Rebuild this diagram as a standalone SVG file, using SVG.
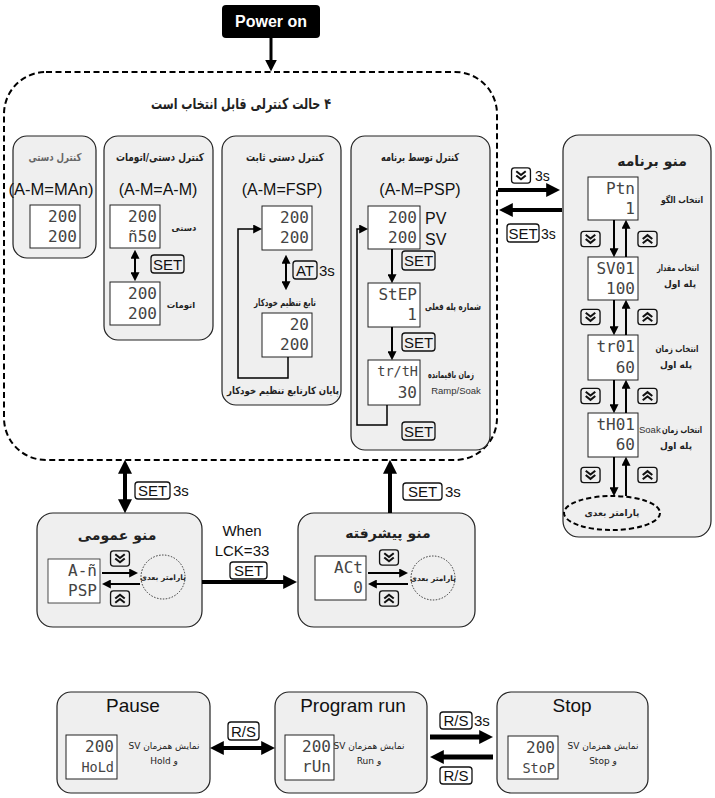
<svg xmlns="http://www.w3.org/2000/svg" xmlns:xlink="http://www.w3.org/1999/xlink" width="715" height="798" viewBox="0 0 715 798">
<defs>
<style>
.box{fill:#efefef;stroke:#222;stroke-width:1.2}
.disp{fill:#fff;stroke:#222;stroke-width:1}
.seg{font-family:"DejaVu Sans Mono","Liberation Mono",monospace;font-size:16px;fill:#444;text-anchor:end}
.seg5{font-size:13.5px}
.fa{font-family:"DejaVu Sans","Noto Sans",sans-serif;font-weight:bold;fill:#222;text-anchor:middle}
.far{font-family:"DejaVu Sans","Noto Sans",sans-serif;fill:#222;text-anchor:middle}
.en{font-family:"Liberation Sans",Arial,sans-serif;fill:#111}
.c{text-anchor:middle}
.key{fill:none;stroke:#111;stroke-width:1.3}
.ln{stroke:#000;fill:none}
.a2{stroke-width:2;marker-end:url(#h2)}
.a4{stroke-width:4;marker-end:url(#h4)}
.d2{marker-start:url(#h2)}
.d4{marker-start:url(#h4)}
</style>
<marker id="h2" viewBox="0 0 10 10" refX="2" refY="5" markerWidth="9" markerHeight="9" markerUnits="userSpaceOnUse" orient="auto-start-reverse"><path d="M0,0 L10,5 L0,10 z"/></marker>
<marker id="h3" viewBox="0 0 10 10" refX="2" refY="5" markerWidth="12" markerHeight="12" markerUnits="userSpaceOnUse" orient="auto-start-reverse"><path d="M0,0 L10,5 L0,10 z"/></marker>
<marker id="h4" viewBox="0 0 10 10" refX="2" refY="5" markerWidth="14" markerHeight="14" markerUnits="userSpaceOnUse" orient="auto-start-reverse"><path d="M0,0 L10,5 L0,10 z"/></marker>
<symbol id="kd" viewBox="0 0 22 18"><rect x="1" y="1" width="20" height="16" rx="3" fill="none" stroke="#111" stroke-width="1.4"/><path d="M6,4.5 L11,8.5 L16,4.5 M6,9 L11,13 L16,9" fill="none" stroke="#111" stroke-width="2.2"/></symbol>
<symbol id="ku" viewBox="0 0 22 18"><rect x="1" y="1" width="20" height="16" rx="3" fill="none" stroke="#111" stroke-width="1.4"/><path d="M6,9 L11,5 L16,9 M6,13.5 L11,9.5 L16,13.5" fill="none" stroke="#111" stroke-width="2.2"/></symbol>
</defs>
<rect width="715" height="798" fill="#fff"/>

<g id="power-on">
<rect x="222" y="5" width="98" height="33" rx="4" fill="#000"/>
<text x="271" y="27" class="en c" style="font-weight:bold;font-size:16px;fill:#fff">Power on</text>
</g>

<g id="control-modes">
<rect x="4" y="72" width="493" height="388" rx="42" fill="none" stroke="#000" stroke-width="2" stroke-dasharray="6 3.5"/>
<text x="241" y="109" class="fa" direction="rtl" style="font-size:15px" textLength="180" lengthAdjust="spacingAndGlyphs">۴ حالت کنترلی قابل انتخاب است</text>
</g>

<g id="mode-manual">
<rect class="box" x="13" y="136" width="83" height="122" rx="14"/>
<text x="55" y="161" class="fa" style="font-size:11px;fill:#666" textLength="53" lengthAdjust="spacingAndGlyphs">کنترل دستی</text>
<text x="51" y="195" class="en c" style="font-size:16.5px">(A-M=MAn)</text>
<rect class="disp" x="30" y="205" width="50" height="43"/>
<text x="77" y="222" class="seg">200</text>
<text x="77" y="242" class="seg">200</text>
</g>

<g id="mode-auto-manual">
<rect class="box" x="104" y="136" width="109" height="204" rx="14"/>
<text x="160" y="161" class="fa" style="font-size:11px" textLength="88" lengthAdjust="spacingAndGlyphs">کنترل دستی/اتومات</text>
<text x="158" y="195" class="en c" style="font-size:16px">(A-M=A-M)</text>
<rect class="disp" x="110" y="205" width="50" height="43"/>
<text x="157" y="222" class="seg">200</text>
<text x="157" y="242" class="seg">ñ50</text>
<text x="184" y="231" class="fa" style="font-size:8.5px">دستی</text>
<rect class="key" x="151" y="255" width="33" height="18" rx="3"/>
<text x="167.5" y="270" class="en c" style="font-size:15px">SET</text>
<rect class="disp" x="110" y="282" width="50" height="43"/>
<text x="157" y="299" class="seg">200</text>
<text x="157" y="319" class="seg">200</text>
<text x="181" y="308" class="fa" style="font-size:8.5px">اتومات</text>
</g>

<g id="mode-fsp">
<rect class="box" x="222" y="136" width="119" height="269" rx="14"/>
<text x="285" y="161" class="fa" style="font-size:11px" textLength="78" lengthAdjust="spacingAndGlyphs">کنترل دستی ثابت</text>
<text x="282" y="195" class="en c" style="font-size:16px">(A-M=FSP)</text>
<rect class="disp" x="262" y="206" width="50" height="44"/>
<text x="309" y="223" class="seg">200</text>
<text x="309" y="243" class="seg">200</text>
<rect class="key" x="293" y="261" width="24" height="18" rx="3"/>
<text x="305" y="276" class="en c" style="font-size:15px">AT</text>
<text x="319" y="276" class="en" style="font-size:15px">3s</text>
<text x="285" y="306" class="fa" style="font-size:10px" textLength="62" lengthAdjust="spacingAndGlyphs">تابع تنظیم خودکار</text>
<rect class="disp" x="262" y="313" width="50" height="44"/>
<text x="309" y="330" class="seg">20</text>
<text x="309" y="350" class="seg">200</text>
<text x="283" y="394" class="fa" style="font-size:10px" textLength="112" lengthAdjust="spacingAndGlyphs">پایان کارتابع تنظیم خودکار</text>
</g>

<g id="mode-psp">
<rect class="box" x="351" y="136" width="139" height="314" rx="14"/>
<text x="420" y="161" class="fa" style="font-size:11px" textLength="78" lengthAdjust="spacingAndGlyphs">کنترل توسط برنامه</text>
<text x="420" y="195" class="en c" style="font-size:16px">(A-M=PSP)</text>
<rect class="disp" x="368" y="206" width="52" height="43"/>
<text x="417" y="223" class="seg">200</text>
<text x="417" y="243" class="seg">200</text>
<text x="425" y="224" class="en" style="font-size:16px">PV</text>
<text x="425" y="245" class="en" style="font-size:16px">SV</text>
<rect class="key" x="402" y="251" width="33" height="19" rx="3"/>
<text x="418.5" y="266" class="en c" style="font-size:15px">SET</text>
<rect class="disp" x="368" y="283" width="52" height="44"/>
<text x="417" y="300" class="seg">StEP</text>
<text x="417" y="320" class="seg">1</text>
<text x="453" y="310" class="fa" style="font-size:9.5px" textLength="56" lengthAdjust="spacingAndGlyphs">شماره پله فعلی</text>
<rect class="key" x="402" y="333" width="33" height="18" rx="3"/>
<text x="418.5" y="348" class="en c" style="font-size:15px">SET</text>
<rect class="disp" x="368" y="360" width="52" height="45"/>
<text x="418" y="376" class="seg seg5">tr/tH</text>
<text x="417" y="398" class="seg">30</text>
<text x="451" y="378" class="fa" style="font-size:9.5px" textLength="46" lengthAdjust="spacingAndGlyphs">زمان باقیمانده</text>
<text x="456" y="394" class="en c" style="font-size:9.5px;fill:#333">Ramp/Soak</text>
<rect class="key" x="402" y="422" width="33" height="18" rx="3"/>
<text x="418.5" y="437" class="en c" style="font-size:15px">SET</text>
</g>

<g id="program-menu">
<rect class="box" x="563" y="135" width="148" height="402" rx="16"/>
<text x="652" y="166" class="fa" style="font-size:14px">منو برنامه</text>
<rect class="disp" x="588" y="177" width="50" height="43"/>
<text x="635" y="194" class="seg">Ptn</text>
<text x="635" y="214" class="seg">1</text>
<text x="682" y="203" class="fa" style="font-size:9px" textLength="42" lengthAdjust="spacingAndGlyphs">انتخاب الگو</text>
<use href="#kd" x="580" y="230" width="21" height="18"/>
<use href="#ku" x="637" y="230" width="21" height="18"/>
<rect class="disp" x="588" y="257" width="50" height="43"/>
<text x="635" y="274" class="seg">SV01</text>
<text x="635" y="294" class="seg">100</text>
<text x="678" y="271" class="fa" style="font-size:9px" textLength="42" lengthAdjust="spacingAndGlyphs">انتخاب مقدار</text>
<text x="680" y="287" class="fa" style="font-size:9px">پله اول</text>
<use href="#kd" x="580" y="308" width="21" height="18"/>
<use href="#ku" x="637" y="308" width="21" height="18"/>
<rect class="disp" x="588" y="335" width="50" height="45"/>
<text x="635" y="352" class="seg">tr01</text>
<text x="635" y="373" class="seg">60</text>
<text x="677" y="352" class="fa" style="font-size:9px" textLength="43" lengthAdjust="spacingAndGlyphs">انتخاب زمان</text>
<text x="676" y="368" class="fa" style="font-size:9px">پله اول</text>
<use href="#kd" x="580" y="387" width="21" height="18"/>
<use href="#ku" x="637" y="387" width="21" height="18"/>
<rect class="disp" x="588" y="413" width="50" height="44"/>
<text x="635" y="430" class="seg">tH01</text>
<text x="635" y="450" class="seg">60</text>
<text x="639" y="433" class="en" style="font-size:9.5px;fill:#333">Soak</text>
<text x="682" y="433" class="fa" style="font-size:9px" textLength="40" lengthAdjust="spacingAndGlyphs">انتخاب زمان</text>
<text x="676" y="449" class="fa" style="font-size:9px">پله اول</text>
<use href="#kd" x="580" y="466" width="21" height="18"/>
<use href="#ku" x="637" y="466" width="21" height="18"/>
<ellipse cx="612" cy="513" rx="48" ry="17" fill="none" stroke="#000" stroke-width="2" stroke-dasharray="5 3"/>
<text x="612" y="516" class="fa" style="font-size:9px">پارامتر بعدی</text>
</g>

<g id="general-menu">
<rect class="box" x="37" y="513" width="165" height="114" rx="16"/>
<text x="117" y="540" class="fa" style="font-size:14px">منو عمومی</text>
<rect class="disp" x="48" y="559" width="52" height="44" style="stroke-width:0.8"/>
<text x="97" y="576" class="seg">A-ñ</text>
<text x="97" y="596" class="seg">PSP</text>
<use href="#kd" x="108" y="550" width="24" height="17"/>
<use href="#ku" x="108" y="590" width="24" height="17"/>
<circle cx="163" cy="577" r="22" fill="none" stroke="#333" stroke-width="1" stroke-dasharray="1.5 1.5"/>
<text x="163" y="580" class="fa" style="font-size:7.5px">پارامتر بعدی</text>
</g>

<g id="advanced-menu">
<rect class="box" x="298" y="513" width="177" height="114" rx="16"/>
<text x="388" y="538" class="fa" style="font-size:14px">منو پیشرفته</text>
<rect class="disp" x="315" y="556" width="51" height="44"/>
<text x="363" y="573" class="seg">ACt</text>
<text x="363" y="593" class="seg">0</text>
<use href="#kd" x="377" y="549" width="24" height="17"/>
<use href="#ku" x="377" y="590" width="24" height="17"/>
<circle cx="433" cy="578" r="22" fill="none" stroke="#333" stroke-width="1" stroke-dasharray="1.5 1.5"/>
<text x="433" y="581" class="fa" style="font-size:7.5px">پارامتر بعدی</text>
</g>

<g id="pause">
<rect class="box" x="57" y="692" width="153" height="101" rx="14"/>
<text x="133" y="712" class="en c" style="font-size:19px">Pause</text>
<rect class="disp" x="66" y="735" width="51" height="44"/>
<text x="114" y="752" class="seg">200</text>
<text x="114" y="772" class="seg seg5">HoLd</text>
<text x="164" y="749" class="far" direction="rtl" style="font-size:9px">نمایش همزمان SV</text>
<text x="164" y="764" class="far" direction="rtl" style="font-size:9px">و Hold</text>
</g>

<g id="program-run">
<rect class="box" x="275" y="692" width="152" height="101" rx="14"/>
<text x="353" y="712" class="en c" style="font-size:19px">Program run</text>
<rect class="disp" x="285" y="735" width="49" height="45"/>
<text x="331" y="752" class="seg">200</text>
<text x="331" y="772" class="seg">rUn</text>
<text x="369" y="749" class="far" direction="rtl" style="font-size:9px">نمایش همزمان SV</text>
<text x="369" y="764" class="far" direction="rtl" style="font-size:9px">و Run</text>
</g>

<g id="stop">
<rect class="box" x="497" y="692" width="151" height="101" rx="14"/>
<text x="572" y="712" class="en c" style="font-size:19px">Stop</text>
<rect class="disp" x="508" y="736" width="50" height="43"/>
<text x="555" y="753" class="seg">200</text>
<text x="555" y="773" class="seg seg5">StoP</text>
<text x="603" y="749" class="far" direction="rtl" style="font-size:9px">نمایش همزمان SV</text>
<text x="603" y="764" class="far" direction="rtl" style="font-size:9px">و Stop</text>
</g>

<g id="connectors">
<line class="ln" x1="271" y1="38" x2="271" y2="62" style="stroke-width:3;marker-end:url(#h3)"/>
<line class="ln a2 d2" x1="135" y1="257" x2="135" y2="274"/>
<line class="ln a2 d2" x1="286" y1="262" x2="286" y2="283"/>
<polyline class="ln" points="288,357 288,378 238,378 238,229 255,229" style="stroke-width:1.5;marker-end:url(#h2)"/>
<line class="ln a2" x1="392" y1="249" x2="392" y2="276"/>
<line class="ln a2" x1="392" y1="327" x2="392" y2="353"/>
<polyline class="ln" points="387,405 387,425 357,425 357,229 361,229" style="stroke-width:1.5;marker-end:url(#h2)"/>
<line class="ln a4" x1="498" y1="190" x2="549" y2="190"/>
<use href="#kd" x="510" y="167" width="22" height="17"/>
<text x="535" y="181" class="en" style="font-size:14px">3s</text>
<line class="ln a4" x1="562" y1="210" x2="510" y2="210"/>
<rect class="key" x="507" y="224" width="32" height="18" rx="3"/>
<text x="523" y="239" class="en c" style="font-size:15px">SET</text>
<text x="541" y="239" class="en" style="font-size:14px">3s</text>
<line class="ln a2" x1="614" y1="220" x2="614" y2="250"/>
<line class="ln a2" x1="626" y1="257" x2="626" y2="227"/>
<line class="ln a2" x1="614" y1="300" x2="614" y2="328"/>
<line class="ln a2" x1="626" y1="335" x2="626" y2="307"/>
<line class="ln a2" x1="614" y1="380" x2="614" y2="406"/>
<line class="ln a2" x1="626" y1="413" x2="626" y2="387"/>
<line class="ln a2" x1="614" y1="457" x2="614" y2="489"/>
<line class="ln a2" x1="626" y1="496" x2="626" y2="464"/>
<line class="ln a4 d4" x1="125" y1="471" x2="125" y2="502"/>
<rect class="key" x="135" y="482" width="35" height="17" rx="3"/>
<text x="152.5" y="496" class="en c" style="font-size:15px">SET</text>
<text x="173" y="496" class="en" style="font-size:15px">3s</text>
<line class="ln a2" x1="102" y1="573" x2="131" y2="573"/>
<line class="ln a2" x1="140" y1="584" x2="109" y2="584"/>
<line class="ln a4" x1="202" y1="582" x2="286" y2="582"/>
<text x="242" y="536" class="en c" style="font-size:15px">When</text>
<text x="242" y="556" class="en c" style="font-size:15px">LCK=33</text>
<rect class="key" x="230" y="562" width="37" height="17" rx="3"/>
<text x="248.5" y="576" class="en c" style="font-size:15px">SET</text>
<line class="ln a4" x1="390" y1="513" x2="390" y2="471"/>
<rect class="key" x="403" y="483" width="39" height="17" rx="3"/>
<text x="422.5" y="497" class="en c" style="font-size:15px">SET</text>
<text x="445" y="497" class="en" style="font-size:15px">3s</text>
<line class="ln a2" x1="368" y1="573" x2="401" y2="573"/>
<line class="ln a2" x1="408" y1="584" x2="375" y2="584"/>
<line class="ln a4 d4" x1="221" y1="748" x2="264" y2="748"/>
<rect class="key" x="228" y="722" width="31" height="18" rx="3"/>
<text x="243.5" y="737" class="en c" style="font-size:15px">R/S</text>
<line class="ln" x1="430" y1="737" x2="482" y2="737" style="stroke-width:5;marker-end:url(#h4)"/>
<rect class="key" x="440" y="712" width="32" height="17" rx="3"/>
<text x="456" y="726" class="en c" style="font-size:15px">R/S</text>
<text x="474" y="726" class="en" style="font-size:15px">3s</text>
<line class="ln" x1="493" y1="757" x2="441" y2="757" style="stroke-width:5;marker-end:url(#h4)"/>
<rect class="key" x="440" y="767" width="32" height="17" rx="3"/>
<text x="456" y="781" class="en c" style="font-size:15px">R/S</text>
</g>
</svg>
